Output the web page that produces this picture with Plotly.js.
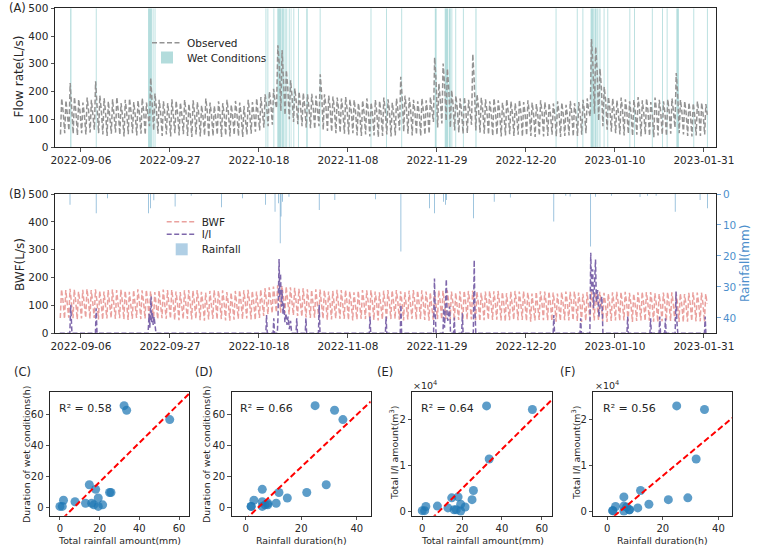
<!DOCTYPE html>
<html><head><meta charset="utf-8">
<script src="https://cdn.plot.ly/plotly-3.0.1.min.js"></script>
<style>html,body{margin:0;padding:0;background:#fff}#chart{width:768px;height:549px}</style>
</head><body><div id="chart"></div>
<script>
// ---------- time-series data (daily, 2022-09-01 .. 2023-01-31) ----------
const seriesStart = [2022, 8, 1];
const obsMax = [175,168,231,180,172,160,178,170,237,185, 176,165,172,180,158,170,175,162,168,176, 160,249,193,170,165,158,172,166,160,170,
  155,168,162,150,175,160,148,165,158,170, 152,166,160,148,170,162,175,180,190,200, 210,367,350,277,241,211,200,195,190,192,185,
  262,190,185,182,178,175,180,172,170,158, 168,175,160,170,166,178,172,160,175,253, 185,178,170,165,175,168,180,323,229,301,
  283,205,185,175,180,170,335,190,178,172, 165,175,168,160,172,165,158,170,162,168, 160,155,168,162,158,157,165,160,152,166,158,
  162,170,175,389,361,283,217,181,175,168, 178,172,165,170,180,168,175,162,178,170, 165,172,175,267,170,165,160,158,165,160,155];
const obsEve = [128,122,160,130,125,118,132,126,150,135, 128,120,126,132,115,124,130,118,122,130, 118,170,140,125,120,115,126,122,118,125,
  115,124,120,110,130,118,108,122,116,126, 112,122,118,108,126,120,130,138,148,158, 165,300,260,215,185,165,152,148,142,145,138,
  190,148,142,140,136,132,138,130,128,118, 126,132,120,128,124,134,130,120,132,180, 140,134,128,124,132,126,136,240,170,230,
  210,155,140,132,136,128,240,145,134,130, 124,132,126,120,130,124,118,128,122,126, 120,116,126,122,118,118,124,120,114,125,118,
  122,128,132,300,280,215,170,140,132,126, 134,130,124,128,136,126,132,122,134,128, 124,130,132,195,128,124,120,118,124,120,116];
const obsMin = [45,50,60,48,42,50,45,52,62,50, 45,40,48,52,44,38,46,50,42,48, 44,75,60,48,40,45,38,50,42,46,
  40,36,45,38,42,35,40,44,36,42, 38,44,40,36,45,48,55,60,70,75, 80,140,130,115,100,90,82,75,70,68,65,
  75,62,58,55,50,52,48,45,50,42, 40,45,38,42,36,40,45,38,42,60, 55,48,42,45,40,44,48,90,70,85,
  95,70,60,52,48,50,80,60,52,48, 45,40,44,38,42,46,40,44,38,42, 40,36,42,38,40,44,38,36,40,42,38,
  40,44,50,110,120,95,75,62,55,50, 45,42,48,40,44,38,46,40,35,42, 45,40,48,70,50,45,40,38,42,40,45];
const bwfMax = [158,155,160,157,150,156,159,155,158,152, 150,156,158,155,157,152,149,155,158,154, 156,151,148,154,157,155,156,150,148,154,
  155,153,155,149,146,152,155,153,154,148, 146,152,155,154,156,152,150,157,162,165, 168,172,170,168,165,163,160,162,158,156,158,
  157,154,150,152,156,155,155,150,147,152, 155,154,155,150,147,153,155,154,155,151, 148,153,155,153,154,150,146,152,154,153,
  154,150,146,151,153,152,153,149,145,150, 152,151,152,148,144,150,152,150,151,147, 143,149,151,150,150,146,143,148,150,149,150,
  146,142,148,150,149,149,145,142,147,149, 148,149,145,142,147,149,148,148,144,141, 146,148,147,147,143,141,145,147,146,146,142];
const bwfEve = [118,115,120,117,112,116,119,115,118,113, 112,116,118,115,117,113,111,115,118,115, 116,112,110,115,117,115,116,112,110,115,
  116,114,116,111,108,113,116,114,115,110, 108,113,116,115,117,113,112,118,124,128, 132,136,134,130,126,124,122,122,118,117,118,
  117,115,112,113,116,115,116,112,110,113, 116,115,116,112,110,114,116,115,116,112, 110,114,116,114,115,112,109,113,115,114,
  115,112,109,112,114,113,114,111,108,112, 113,112,113,110,107,112,113,112,113,110, 106,111,113,112,112,109,106,110,112,111,112,
  109,106,110,112,111,111,108,106,110,111, 110,111,108,106,110,111,110,110,107,105, 109,110,109,109,106,105,108,110,109,109,106];
const bwfMin = [55,52,56,54,50,53,56,52,55,50, 49,53,55,52,54,50,48,52,55,51, 53,49,47,51,54,52,53,48,47,51,
  52,50,52,47,45,50,52,50,51,46, 45,49,52,51,53,50,48,55,62,68, 72,75,74,72,68,65,62,60,57,55,56,
  55,52,48,50,53,52,52,48,46,50, 52,51,52,48,46,50,52,51,52,49, 46,50,52,50,51,48,45,49,51,50,
  51,48,45,48,50,49,50,47,44,47, 49,48,49,46,43,47,49,47,48,45, 42,46,48,47,47,44,42,45,47,46,47,
  44,41,45,47,46,46,43,41,44,46, 45,46,43,41,44,46,45,45,42,40, 43,45,44,44,41,40,42,44,43,43,41];

const iiPoints = [['2022-09-01 00:00',0],['2022-09-03 09:00',0],['2022-09-03 14:00',102],['2022-09-03 17:00',35],['2022-09-03 21:00',0],
  ['2022-09-09 10:00',0],['2022-09-09 14:00',90],['2022-09-09 19:00',0],
  ['2022-09-21 20:00',0],['2022-09-22 02:00',70],['2022-09-22 06:00',20],['2022-09-22 13:00',132],['2022-09-22 16:00',40],['2022-09-22 20:00',75],['2022-09-23 01:00',30],['2022-09-23 06:00',60],['2022-09-23 12:00',25],['2022-09-23 17:00',0],
  ['2022-10-19 15:00',0],['2022-10-19 19:00',66],['2022-10-19 23:00',0],
  ['2022-10-21 08:00',0],['2022-10-21 12:00',54],['2022-10-21 16:00',0],
  ['2022-10-22 08:00',0],['2022-10-22 12:00',60],['2022-10-22 18:00',267],['2022-10-22 22:00',130],['2022-10-23 02:00',215],['2022-10-23 07:00',95],['2022-10-23 11:00',155],['2022-10-23 16:00',70],['2022-10-23 21:00',108],['2022-10-24 03:00',40],['2022-10-24 09:00',72],['2022-10-24 15:00',30],['2022-10-24 21:00',60],['2022-10-25 04:00',15],['2022-10-25 11:00',45],['2022-10-25 17:00',0],
  ['2022-10-26 18:00',0],['2022-10-26 22:00',54],['2022-10-27 02:00',0],
  ['2022-10-28 22:00',0],['2022-10-29 02:00',54],['2022-10-29 06:00',0],
  ['2022-11-01 01:00',0],['2022-11-01 05:00',102],['2022-11-01 10:00',0],
  ['2022-11-13 01:00',0],['2022-11-13 05:00',60],['2022-11-13 09:00',0],
  ['2022-11-16 20:00',0],['2022-11-17 00:00',60],['2022-11-17 04:00',0],
  ['2022-11-20 08:00',0],['2022-11-20 12:00',102],['2022-11-20 16:00',0],
  ['2022-11-28 05:00',0],['2022-11-28 10:00',197],['2022-11-28 14:00',80],['2022-11-28 19:00',0],
  ['2022-11-30 10:00',0],['2022-11-30 14:00',90],['2022-11-30 19:00',20],['2022-12-01 05:00',194],['2022-12-01 10:00',60],['2022-12-01 14:00',45],['2022-12-02 00:00',96],['2022-12-02 05:00',0],
  ['2022-12-02 22:00',0],['2022-12-03 02:00',57],['2022-12-03 06:00',0],
  ['2022-12-04 20:00',0],['2022-12-05 00:00',72],['2022-12-05 04:00',0],
  ['2022-12-07 14:00',0],['2022-12-07 19:00',263],['2022-12-07 23:00',90],['2022-12-08 04:00',0],
  ['2022-12-26 10:00',0],['2022-12-26 14:00',66],['2022-12-26 18:00',0],
  ['2023-01-01 18:00',0],['2023-01-01 22:00',54],['2023-01-02 02:00',0],
  ['2023-01-04 02:00',0],['2023-01-04 07:00',289],['2023-01-04 12:00',150],['2023-01-04 18:00',230],['2023-01-04 23:00',90],['2023-01-05 10:00',265],['2023-01-05 15:00',110],['2023-01-05 22:00',155],['2023-01-06 05:00',60],['2023-01-06 12:00',100],['2023-01-06 22:00',132],['2023-01-07 04:00',0],
  ['2023-01-12 20:00',0],['2023-01-13 00:00',60],['2023-01-13 04:00',0],
  ['2023-01-18 06:00',0],['2023-01-18 10:00',54],['2023-01-18 14:00',0],
  ['2023-01-20 10:00',0],['2023-01-20 14:00',60],['2023-01-20 18:00',0],
  ['2023-01-21 18:00',0],['2023-01-21 22:00',54],['2023-01-22 02:00',0],
  ['2023-01-24 05:00',0],['2023-01-24 10:00',150],['2023-01-24 15:00',40],['2023-01-24 20:00',0],
  ['2023-01-31 03:00',0],['2023-01-31 07:00',60],['2023-01-31 11:00',0],['2023-01-31 23:00',0]];

const rainfall = [['2022-09-03 10:00',3.5],['2022-09-09 14:00',6.2],['2022-09-12 07:00',1.4],['2022-09-21 22:00',6.2],['2022-09-22 10:00',4.6],['2022-09-23 05:00',2.0],
  ['2022-09-28 05:00',4.0],['2022-10-02 00:00',0.6],['2022-10-09 05:00',4.3],['2022-10-14 02:00',1.4],['2022-10-19 14:00',3.5],['2022-10-21 19:00',5.7],
  ['2022-10-22 14:00',3.0],['2022-10-23 00:00',15.9],['2022-10-23 05:00',7.3],['2022-10-23 14:00',2.5],['2022-10-25 02:00',0.9],['2022-11-01 05:00',5.2],
  ['2022-11-04 22:00',1.9],['2022-11-14 12:00',1.7],['2022-11-20 12:00',18.6],['2022-11-27 07:00',4.6],['2022-11-28 10:00',6.2],['2022-11-30 14:00',2.5],
  ['2022-12-01 00:00',3.5],['2022-12-01 05:00',1.9],['2022-12-07 14:00',7.8],['2022-12-12 12:00',2.5],['2022-12-16 07:00',1.1],['2022-12-26 14:00',8.9],
  ['2022-12-29 10:00',0.6],['2022-12-30 10:00',0.8],['2023-01-04 07:00',17.0],['2023-01-05 10:00',0.9],['2023-01-09 05:00',0.6],['2023-01-15 22:00',1.0],
  ['2023-01-17 17:00',0.6],['2023-01-19 17:00',0.6],['2023-01-24 05:00',5.7],['2023-01-30 02:00',1.9],['2023-01-31 19:00',4.6]];

const wetSpans = [['2022-09-03 11:00','2022-09-03 18:00'],['2022-09-09 12:00','2022-09-09 17:00'],['2022-09-21 20:00','2022-09-22 18:00'],
  ['2022-09-22 22:00','2022-09-23 03:00'],['2022-09-23 09:00','2022-09-23 14:00'],['2022-10-19 13:00','2022-10-19 18:00'],['2022-10-20 00:00','2022-10-20 05:00'],
  ['2022-10-21 10:00','2022-10-21 15:00'],['2022-10-22 08:00','2022-10-23 08:00'],['2022-10-23 11:00','2022-10-23 21:00'],['2022-10-24 01:00','2022-10-24 07:00'],
  ['2022-10-24 11:00','2022-10-24 16:00'],['2022-10-25 01:00','2022-10-25 06:00'],['2022-10-25 12:00','2022-10-25 16:00'],['2022-10-26 03:00','2022-10-26 08:00'],
  ['2022-10-27 05:00','2022-10-27 10:00'],['2022-10-29 04:00','2022-10-29 12:00'],['2022-11-01 08:00','2022-11-01 13:00'],['2022-11-13 08:00','2022-11-13 13:00'],
  ['2022-11-17 00:00','2022-11-17 05:00'],['2022-11-20 14:00','2022-11-20 19:00'],['2022-11-28 12:00','2022-11-28 22:00'],['2022-11-30 20:00','2022-12-01 16:00'],
  ['2022-12-01 20:00','2022-12-02 06:00'],['2022-12-02 10:00','2022-12-02 15:00'],['2022-12-03 08:00','2022-12-03 13:00'],['2022-12-05 03:00','2022-12-05 08:00'],
  ['2022-12-08 02:00','2022-12-08 08:00'],['2022-12-27 00:00','2022-12-27 05:00'],['2023-01-01 00:00','2023-01-01 05:00'],['2023-01-02 08:00','2023-01-02 13:00'],
  ['2023-01-04 06:00','2023-01-05 00:00'],['2023-01-05 04:00','2023-01-05 16:00'],['2023-01-05 20:00','2023-01-06 02:00'],['2023-01-06 08:00','2023-01-06 14:00'],
  ['2023-01-07 08:00','2023-01-07 13:00'],['2023-01-08 05:00','2023-01-08 10:00'],['2023-01-13 10:00','2023-01-13 15:00'],['2023-01-14 12:00','2023-01-14 17:00'],
  ['2023-01-18 17:00','2023-01-18 22:00'],['2023-01-21 03:00','2023-01-21 08:00'],['2023-01-22 05:00','2023-01-22 10:00'],['2023-01-24 12:00','2023-01-25 02:00'],
  ['2023-01-28 12:00','2023-01-28 17:00'],['2023-01-31 17:00','2023-01-31 22:00']];

const dateTicks = ['2022-09-06','2022-09-27','2022-10-18','2022-11-08','2022-11-29','2022-12-20','2023-01-10','2023-01-31'];

// ---------- event scatter data ----------
const rainAmount   = [32.3, 33.6, 55.3, 14.8, 18.0, 25.0, 25.7, 19.3, 1.8, 7.6, 12.9, 16.0, 17.1, 21.5, 0.0, 1.2, 19.3];
const rainDuration = [25, 32, 35, 29, 6, 22, 12, 15, 3, 6, 11, 8, 8, 7, 2, 2, 6];
const wetDuration  = [66, 63, 57, 15, 12, 10, 10, 6.4, 5, 4, 3, 3, 2, 2, 1, 1, 1];
const iiAmount     = [23000, 11400, 22200, 2900, 3100, 2500, 4500, 1500, 1000, 1100, 700, 300, 300, 900, 100, 100, 0];
const r2Labels = ['R² = 0.58', 'R² = 0.66', 'R² = 0.64', 'R² = 0.56'];

// ---------- helpers ----------
function dayStamp(i, hour) {
  const d = new Date(Date.UTC(seriesStart[0], seriesStart[1], seriesStart[2] + i, hour));
  return d.toISOString().slice(0, 16).replace('T', ' ');
}
function toMs(s) { return Date.parse(s.replace(' ', 'T') + ':00Z'); }
function daily(mins, maxs, eves, hours) {
  const x = [], y = [];
  for (let i = 0; i < mins.length; i++) {
    x.push(dayStamp(i, hours[0])); y.push(mins[i]);
    x.push(dayStamp(i, hours[1])); y.push(maxs[i]);
    x.push(dayStamp(i, hours[2])); y.push(eves[i]);
  }
  return {x, y};
}
function ols(xs, ys) {
  const n = xs.length;
  const mx = xs.reduce((a, b) => a + b, 0) / n, my = ys.reduce((a, b) => a + b, 0) / n;
  let sxy = 0, sxx = 0;
  for (let i = 0; i < n; i++) { sxy += (xs[i] - mx) * (ys[i] - my); sxx += (xs[i] - mx) ** 2; }
  const b = sxy / sxx; return {b, a: my - b * mx};
}

const obs = daily(obsMin, obsMax, obsEve, [4, 11, 19]);
const bwf = daily(bwfMin, bwfMax, bwfEve, [3, 10, 18]);
const HOUR = 3600e3;

const FONT = 'DejaVu Sans, Arial, sans-serif';
const INK = '#262626';
const BLUE_LBL = '#4d8fcc';

const traces = [];
traces.push({type: 'scatter', mode: 'lines', x: obs.x, y: obs.y, xaxis: 'x', yaxis: 'y', name: 'Observed',
  line: {color: '#939393', width: 1.5, dash: '5px,2.5px'}, legend: 'legend', hoverinfo: 'skip'});
traces.push({type: 'bar', x: wetSpans.map(s => s[0]), y: wetSpans.map(() => 500),
  width: wetSpans.map(s => toMs(s[1]) - toMs(s[0])), offset: 0, base: 0,
  xaxis: 'x', yaxis: 'y', name: 'Wet Conditions', marker: {color: '#3aa6a6', line: {width: 0}}, opacity: 0.38,
  legend: 'legend2', hoverinfo: 'skip'});

traces.push({type: 'scatter', mode: 'lines', x: bwf.x, y: bwf.y, xaxis: 'x2', yaxis: 'y2', name: 'BWF',
  line: {color: '#eaa19e', width: 1.5, dash: '5px,2.5px'}, legend: 'legend3', hoverinfo: 'skip'});
traces.push({type: 'scatter', mode: 'lines', x: iiPoints.map(p => p[0]), y: iiPoints.map(p => p[1]), xaxis: 'x2', yaxis: 'y2', name: 'I/I',
  line: {color: '#7e67ab', width: 1.5, dash: '5px,2.5px'}, legend: 'legend4', hoverinfo: 'skip'});
traces.push({type: 'bar', x: rainfall.map(p => p[0]), y: rainfall.map(p => p[1]), width: 3 * HOUR,
  xaxis: 'x2', yaxis: 'y3', name: 'Rainfall', marker: {color: '#1f77b4', line: {width: 0}}, opacity: 0.8,
  showlegend: false, hoverinfo: 'skip'});
// legend swatch for rainfall (pale patch, as in the source legend)
traces.push({type: 'bar', x: [null], y: [null], xaxis: 'x2', yaxis: 'y3', name: 'Rainfall',
  marker: {color: '#1f77b4', line: {width: 0}}, opacity: 0.35, legend: 'legend5', hoverinfo: 'skip'});

const scat = [
  {xs: rainAmount, ys: wetDuration, xa: 'x3', ya: 'y4', xr: [-5, 65]},
  {xs: rainDuration, ys: wetDuration, xa: 'x4', ya: 'y5', xr: [-5, 45]},
  {xs: rainAmount, ys: iiAmount, xa: 'x5', ya: 'y6', xr: [-5, 65]},
  {xs: rainDuration, ys: iiAmount, xa: 'x6', ya: 'y7', xr: [-5, 45]}];
scat.forEach(s => {
  traces.push({type: 'scatter', mode: 'markers', x: s.xs, y: s.ys, xaxis: s.xa, yaxis: s.ya, showlegend: false,
    marker: {color: '#1f77b4', opacity: 0.72, size: 9, line: {width: 0}}, hoverinfo: 'skip'});
  const f = ols(s.xs, s.ys);
  traces.push({type: 'scatter', mode: 'lines', x: s.xr, y: s.xr.map(v => f.a + f.b * v), xaxis: s.xa, yaxis: s.ya, showlegend: false,
    line: {color: '#ff0000', width: 2, dash: '6px,3px'}, hoverinfo: 'skip'});
});

const W = 768, H = 549;
const px = v => v / W, py = v => 1 - v / H;
const base = {showline: true, linecolor: INK, linewidth: 1, mirror: true, ticks: 'outside', ticklen: 3.5, tickwidth: 0.8,
  tickcolor: INK, showgrid: false, zeroline: false, tickfont: {family: FONT, size: 10.5, color: INK}};
const tsX = {...base, type: 'date', range: ['2022-08-30 21:00', '2023-02-02 22:00'], tickmode: 'array', tickvals: dateTicks, ticktext: dateTicks, domain: [px(55), px(716.3)]};
const scFont = {family: FONT, size: 10, color: INK};

const layout = {
  width: W, height: H, margin: {l: 0, r: 0, t: 0, b: 0}, paper_bgcolor: '#fff', plot_bgcolor: 'rgba(0,0,0,0)',
  font: {family: FONT, color: INK}, showlegend: true, barmode: 'overlay',
  xaxis: {...tsX, anchor: 'y'},
  yaxis: {...base, anchor: 'x', domain: [py(147), py(8.3)], range: [0, 500], tickvals: [0, 100, 200, 300, 400, 500]},
  xaxis2: {...tsX, anchor: 'y2'},
  yaxis2: {...base, anchor: 'x2', domain: [py(333.3), py(194)], range: [0, 500], tickvals: [0, 100, 200, 300, 400, 500]},
  yaxis3: {...base, mirror: false, overlaying: 'y2', side: 'right', anchor: 'x2', range: [45, 0], tickvals: [0, 10, 20, 30, 40],
    tickcolor: BLUE_LBL, tickfont: {family: FONT, size: 10.5, color: BLUE_LBL}},
  xaxis3: {...base, anchor: 'y4', domain: [px(50), px(189)], range: [-5, 65], tickvals: [0, 20, 40, 60], tickfont: scFont},
  yaxis4: {...base, anchor: 'x3', domain: [py(515.7), py(391.7)], range: [-5, 75], tickvals: [0, 20, 40, 60], tickfont: scFont},
  xaxis4: {...base, anchor: 'y5', domain: [px(231.7), px(370.7)], range: [-5, 45], tickvals: [0, 20, 40], tickfont: scFont},
  yaxis5: {...base, anchor: 'x4', domain: [py(515.7), py(391.7)], range: [-5, 75], tickvals: [0, 20, 40, 60], tickfont: scFont},
  xaxis5: {...base, anchor: 'y6', domain: [px(412.3), px(551.7)], range: [-5, 65], tickvals: [0, 20, 40, 60], tickfont: scFont},
  yaxis6: {...base, anchor: 'x5', domain: [py(515.7), py(391.7)], range: [-1000, 26100], tickvals: [0, 10000, 20000], ticktext: ['0', '1', '2'], tickfont: scFont},
  xaxis6: {...base, anchor: 'y7', domain: [px(593.3), px(732.3)], range: [-5, 45], tickvals: [0, 20, 40], tickfont: scFont},
  yaxis7: {...base, anchor: 'x6', domain: [py(515.7), py(391.7)], range: [-1000, 26100], tickvals: [0, 10000, 20000], ticktext: ['0', '1', '2'], tickfont: scFont},
  annotations: [],
};
const legFont = {family: FONT, size: 10.5, color: INK};
const mkLeg = (x, yc) => ({x: px(x), y: py(yc), xanchor: 'left', yanchor: 'middle', bgcolor: 'rgba(0,0,0,0)', borderwidth: 0,
  font: legFont, itemwidth: 30, itemclick: false, itemdoubleclick: false});
layout.legend = mkLeg(147, 42.7);
layout.legend2 = mkLeg(147, 57.5);
layout.legend3 = mkLeg(161.7, 221.7);
layout.legend4 = mkLeg(161.7, 234.3);
layout.legend5 = mkLeg(161.7, 249.3);

function ann(text, x, y, opts) {
  layout.annotations.push(Object.assign({text, x: px(x), y: py(y), xref: 'paper', yref: 'paper', showarrow: false,
    xanchor: 'center', yanchor: 'middle', font: {family: FONT, size: 11, color: INK}}, opts || {}));
}
const lblFont = {family: FONT, size: 11.5, color: INK};
ann('(A)', 7, 8, {xanchor: 'left', font: lblFont});
ann('(B)', 7, 194, {xanchor: 'left', font: lblFont});
ann('(C)', 12, 372, {xanchor: 'left', font: lblFont});
ann('(D)', 193, 372, {xanchor: 'left', font: lblFont});
ann('(E)', 375, 372, {xanchor: 'left', font: lblFont});
ann('(F)', 558, 372, {xanchor: 'left', font: lblFont});
ann('Flow rate(L/s)', 18.5, 77, {textangle: -90, font: {family: FONT, size: 12, color: INK}});
ann('BWF(L/s)', 20, 265, {textangle: -90, font: {family: FONT, size: 12, color: INK}});
ann('Rainfall(mm)', 745, 264, {textangle: -90, font: {family: FONT, size: 12, color: BLUE_LBL}});
const scT = {family: FONT, size: 9.4, color: INK};
ann('Duration of wet conditions(h)', 26, 455, {textangle: -90, font: scT});
ann('Duration of wet conditions(h)', 206, 455, {textangle: -90, font: scT});
ann('Total I/I amount(m<sup>3</sup>)', 394, 453, {textangle: -90, font: scT});
ann('Total I/I amount(m<sup>3</sup>)', 576, 453, {textangle: -90, font: scT});
ann('Total rainfall amount(mm)', 119.5, 540.5, {font: scT});
ann('Rainfall duration(h)', 301.2, 540.5, {font: scT});
ann('Total rainfall amount(mm)', 482, 540.5, {font: scT});
ann('Rainfall duration(h)', 662.8, 540.5, {font: scT});
ann('×10<sup>4</sup>', 425, 385, {font: {family: FONT, size: 9.5, color: INK}});
ann('×10<sup>4</sup>', 607, 385, {font: {family: FONT, size: 9.5, color: INK}});
[[57, 408], [238, 408], [419, 408], [601, 408]].forEach((p, i) => ann(r2Labels[i], p[0], p[1], {xanchor: 'left', font: {family: FONT, size: 11, color: INK}}));

Plotly.newPlot('chart', traces, layout, {staticPlot: true, displayModeBar: false});
</script>
</body></html>
